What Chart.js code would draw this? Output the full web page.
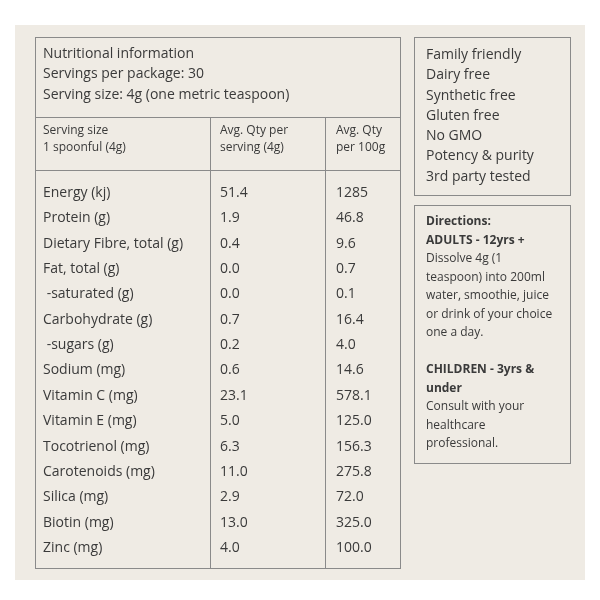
<!DOCTYPE html>
<html>
<head>
<meta charset="utf-8">
<script src="https://cdn.jsdelivr.net/npm/chart.js@4/dist/chart.umd.min.js"></script>
<style>html,body{margin:0;padding:0;background:#fff}</style>
</head>
<body>
<canvas id="myChart" width="600" height="600"></canvas>
<script>
// table data
var rowNames = ['Energy (kj)', 'Protein (g)', 'Dietary Fibre, total (g)', 'Fat, total (g)', ' -saturated (g)',
  'Carbohydrate (g)', ' -sugars (g)', 'Sodium (mg)', 'Vitamin C (mg)', 'Vitamin E (mg)', 'Tocotrienol (mg)',
  'Carotenoids (mg)', 'Silica (mg)', 'Biotin (mg)', 'Zinc (mg)'];
var perServing = ['51.4', '1.9', '0.4', '0.0', '0.0', '0.7', '0.2', '0.6', '23.1', '5.0', '6.3', '11.0', '2.9', '13.0', '4.0'];
var per100g = ['1285', '46.8', '9.6', '0.7', '0.1', '16.4', '4.0', '14.6', '578.1', '125.0', '156.3', '275.8', '72.0', '325.0', '100.0'];
var headerLines = ['Nutritional information', 'Servings per package: 30', 'Serving size: 4g (one metric teaspoon)'];
var colHeaders = [['Serving size', '1 spoonful (4g)'], ['Avg. Qty per', 'serving (4g)'], ['Avg. Qty', 'per 100g']];
var features = ['Family friendly', 'Dairy free', 'Synthetic free', 'Gluten free', 'No GMO', 'Potency & purity', '3rd party tested'];
var directions = [['Directions:', true], ['ADULTS - 12yrs +', true], ['Dissolve 4g (1', false], ['teaspoon) into 200ml', false],
  ['water, smoothie, juice', false], ['or drink of your choice', false], ['one a day.', false], ['', false],
  ['CHILDREN - 3yrs &', true], ['under', true], ['Consult with your', false], ['healthcare', false], ['professional.', false]];

var colX = [43, 220, 336];
var FONT = '"Open Sans", sans-serif';
var INK = '#3a3a3a';
var LINE = '#8a8a8a';

var tablePlugin = {
  id: 'tablePlugin',
  beforeDraw: function(chart) {
    var c = chart.ctx;
    c.save();
    c.fillStyle = '#fff';
    c.fillRect(0, 0, 600, 600);
    c.fillStyle = '#efebe4';
    c.fillRect(15, 25, 570, 555);
    c.restore();
  },
  afterDraw: function(chart) {
    var c = chart.ctx, x = chart.scales.x, y = chart.scales.y;
    c.save();
    c.strokeStyle = LINE;
    c.lineWidth = 1;
    c.strokeRect(x.getPixelForValue(35.5), 37.5, 365, 531);
    c.strokeRect(x.getPixelForValue(414.5), 37.5, 156, 158);
    c.strokeRect(x.getPixelForValue(414.5), 205.5, 156, 258);
    c.beginPath();
    c.moveTo(35.5, 117.5); c.lineTo(400.5, 117.5);
    c.moveTo(35.5, 170.5); c.lineTo(400.5, 170.5);
    c.moveTo(210.5, 117.5); c.lineTo(210.5, 568.5);
    c.moveTo(325.5, 117.5); c.lineTo(325.5, 568.5);
    c.stroke();

    c.fillStyle = INK;
    c.textBaseline = 'middle';
    c.textAlign = 'left';
    c.font = '14px ' + FONT;
    headerLines.forEach(function(t, i) { c.fillText(t, 43, 54 + i * 20.5); });
    c.font = '12px ' + FONT;
    colHeaders.forEach(function(h, j) {
      c.fillText(h[0], colX[j], 131);
      c.fillText(h[1], colX[j], 148);
    });
    c.font = '14px ' + FONT;
    rowNames.forEach(function(n, i) {
      var py = y.getPixelForValue(i);
      c.fillText(n, x.getPixelForValue(colX[0]), py);
      c.fillText(perServing[i], x.getPixelForValue(colX[1]), py);
      c.fillText(per100g[i], x.getPixelForValue(colX[2]), py);
    });
    features.forEach(function(t, i) { c.fillText(t, 426, 55 + i * 20.3); });
    directions.forEach(function(d, i) {
      c.font = (d[1] ? 'bold ' : '') + '12px ' + FONT;
      c.fillText(d[0], 426, 222 + i * 18.5);
    });
    c.restore();
  }
};

var ctx = document.getElementById('myChart').getContext('2d');
var tableChart = new Chart(ctx, {
  type: 'scatter',
  data: { datasets: [{ data: [] }] },
  options: {
    responsive: false,
    animation: false,
    layout: { padding: { top: 193, bottom: 52, left: 0, right: 0 } },
    plugins: { legend: { display: false }, tooltip: { enabled: false } },
    scales: {
      x: { type: 'linear', min: 0, max: 600, display: false },
      y: { type: 'category', labels: rowNames, offset: false, display: false }
    }
  },
  plugins: [tablePlugin]
});
</script>
</body>
</html>
